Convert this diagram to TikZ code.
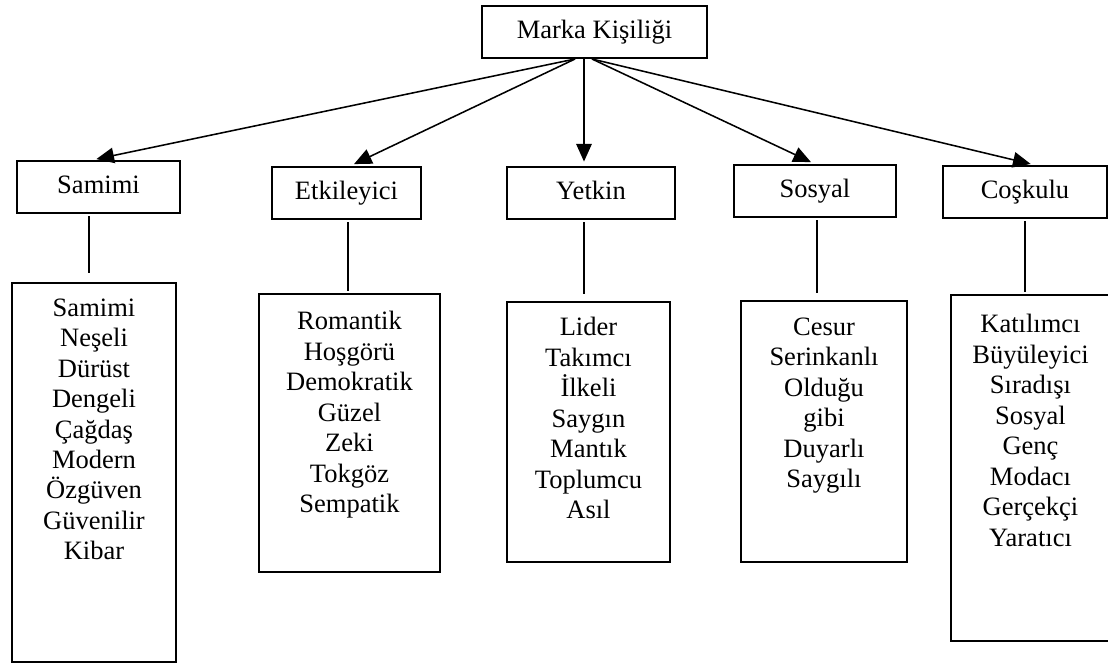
\documentclass[tikz,border=0pt]{standalone}
\usepackage{fontspec}
\setmainfont{Liberation Serif}
\usepackage{tikz}
\usetikzlibrary{calc,arrows.meta}

\newcommand{\px}{0.4525pt}

\tikzset{
  headbox/.style={draw, line width=0.9pt, minimum height=52*\px, inner sep=0pt, text height=8.4pt, text depth=2.8pt},
  listbox/.style={draw, line width=0.9pt, inner sep=0pt},
  listtext/.style={anchor=north, align=center, inner sep=0pt},
  conn/.style={line width=0.7pt},
  arr/.style={conn, -{Triangle[length=8pt,width=7pt]}, shorten >=2pt}
}

\begin{document}
\begin{tikzpicture}[x=\px, y=-\px, font=\fontsize{12}{13.8}\selectfont]
\clip (0,0) rectangle (1108,666);
\node[headbox, minimum width=225*\px] (marka) at (594.5,32) {Marka Kişiliği};
\node[headbox, minimum width=163*\px] (samimi) at (98.5,187) {Samimi};
\node[headbox, minimum width=149*\px] (etk) at (346.5,193) {Etkileyici};
\node[headbox, minimum width=168*\px] (yet) at (591,193) {Yetkin};
\node[headbox, minimum width=162*\px] (sos) at (815,191) {Sosyal};
\node[headbox, minimum width=164*\px] (cos) at (1025,192) {Coşkulu};
\node[listbox, minimum width=164*\px, minimum height=379*\px] (samimiL) at (94,472.5) {};
\node[listbox, minimum width=181*\px, minimum height=278*\px] (etkL) at (349.5,433) {};
\node[listbox, minimum width=163*\px, minimum height=260*\px] (yetL) at (588.5,432) {};
\node[listbox, minimum width=166*\px, minimum height=261*\px] (sosL) at (824,431.5) {};
\node[listbox, minimum width=159*\px, minimum height=346*\px] (cosL) at (1030.5,468) {};
\node[listtext] (samimiT) at ($(samimiL.north)+(0,16)$) {Samimi\\Neşeli\\Dürüst\\Dengeli\\Çağdaş\\Modern\\Özgüven\\Güvenilir\\Kibar};
\node[listtext] (etkT) at ($(etkL.north)+(0,18)$) {Romantik\\Hoşgörü\\Demokratik\\Güzel\\Zeki\\Tokgöz\\Sempatik};
\node[listtext] (yetT) at ($(yetL.north)+(0,16)$) {Lider\\Takımcı\\İlkeli\\Saygın\\Mantık\\Toplumcu\\Asıl};
\node[listtext] (sosT) at ($(sosL.north)+(0,17)$) {Cesur\\Serinkanlı\\Olduğu\\gibi\\Duyarlı\\Saygılı};
\node[listtext] (cosT) at ($(cosL.north)+(0,20)$) {Katılımcı\\Büyüleyici\\Sıradışı\\Sosyal\\Genç\\Modacı\\Gerçekçi\\Yaratıcı};
\draw[arr] ($(marka.south)+(-19.5,0)$) -- ($(samimi.north)+(-6.5,0)$);
\draw[arr] ($(marka.south)+(-19.5,0)$) -- ($(etk.north)+(3.5,0)$);
\draw[arr] ($(marka.south)+(-10.5,0)$) -- ($(yet.north)+(-7,0)$);
\draw[arr] ($(marka.south)+(-2.5,0)$) -- ($(sos.north)+(0,0)$);
\draw[arr] ($(marka.south)+(-2.5,0)$) -- ($(cos.north)+(10,0)$);
\draw[conn, shorten <=1pt, shorten >=4pt] ($(samimi.south)+(-9.5,0)$) -- ($(samimiL.north)+(-5,0)$);
\draw[conn, shorten <=1pt, shorten >=1pt] ($(etk.south)+(1.5,0)$) -- ($(etkL.north)+(-1.5,0)$);
\draw[conn, shorten <=1pt, shorten >=3pt] ($(yet.south)+(-7,0)$) -- ($(yetL.north)+(-4.5,0)$);
\draw[conn, shorten <=1pt, shorten >=3pt] ($(sos.south)+(2,0)$) -- ($(sosL.north)+(-7,0)$);
\draw[conn, shorten <=1pt, shorten >=1pt] ($(cos.south)+(0,0)$) -- ($(cosL.north)+(-5.5,0)$);
\end{tikzpicture}
\end{document}
